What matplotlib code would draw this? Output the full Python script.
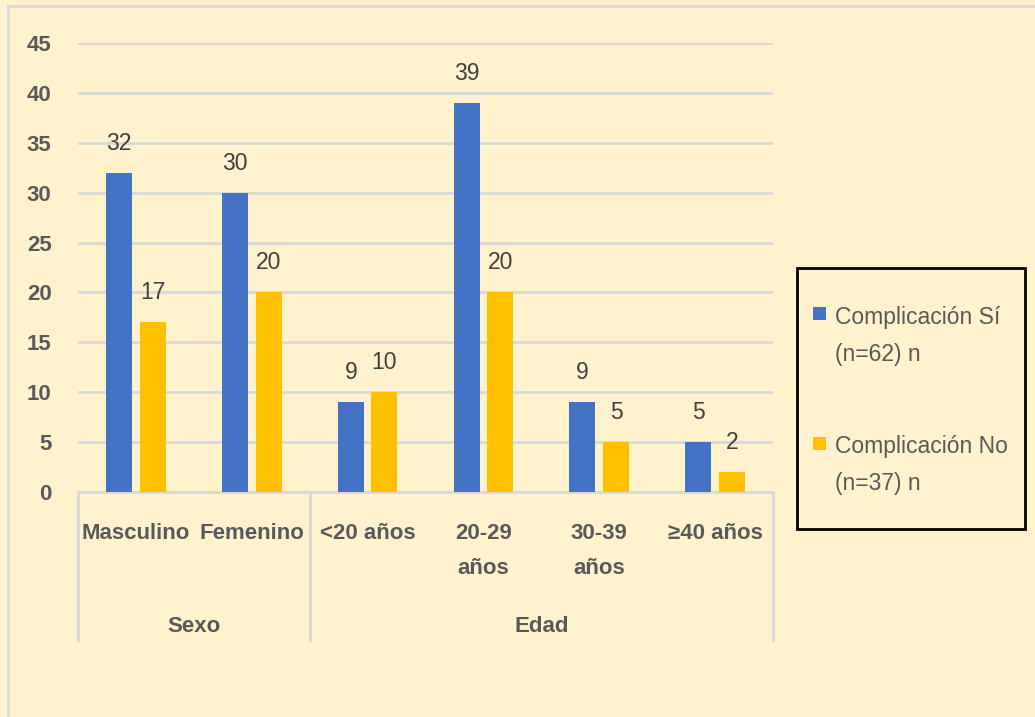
import matplotlib
matplotlib.use("Agg")
import matplotlib.pyplot as plt
from matplotlib.lines import Line2D
from matplotlib.patches import Patch, Rectangle
from matplotlib.legend_handler import HandlerPatch
import numpy as np

categories = ["Masculino", "Femenino", "<20 años", "20-29\naños", "30-39\naños", "≥40 años"]
groups = ["Sexo", "Edad"]
group_sizes = [2, 4]
si_values = [32, 30, 9, 39, 9, 5]
no_values = [17, 20, 10, 20, 5, 2]
series_names = ["Complicación Sí\n(n=62) n", "Complicación No\n(n=37) n"]
yticks = list(range(0, 50, 5))

BG = "#FFF2CC"
BLUE = "#4472C4"
YEL = "#FFC000"
GRID = "#D9D9D9"
TXT = "#595959"
plt.rcParams["font.family"] = ["Liberation Sans", "DejaVu Sans"]

W, H = 1035, 717
fig = plt.figure(figsize=(W / 100, H / 100), dpi=100, facecolor=BG)
L, R, B, T = 78, 773, 492, 43
ax = fig.add_axes([L / W, 1 - B / H, (R - L) / W, (B - T) / H])
ax.set_facecolor(BG)

x = np.arange(len(categories))
w = 0.225
off = 0.145
b1 = ax.bar(x - off, si_values, w, color=BLUE, zorder=3)
b2 = ax.bar(x + off, no_values, w, color=YEL, zorder=3)
for bars in (b1, b2):
    ax.bar_label(bars, padding=13, fontsize=16.5, color="#404040")

ax.set_xlim(-0.5, len(categories) - 0.5)
ax.set_ylim(0, 45)
ax.set_yticks(yticks)
ax.set_yticklabels([str(v) for v in yticks], fontsize=16, fontweight="bold", color=TXT)
ax.tick_params(axis="y", length=0, pad=19)
ax.set_xticks(x)
ax.set_xticklabels(categories, fontsize=16, fontweight="bold", color=TXT)
ax.tick_params(axis="x", length=0, pad=22)
for lab in ax.get_xticklabels():
    lab.set_linespacing(1.93)
    lab.set_verticalalignment("top")

ax.grid(axis="y", color=GRID, linewidth=2, zorder=0)
for s in ["top", "right", "left"]:
    ax.spines[s].set_visible(False)
ax.spines["bottom"].set_color(GRID)
ax.spines["bottom"].set_linewidth(2)

# group separators and labels
depth = (640 - B) / (B - T)
bounds = np.concatenate([[0], np.cumsum(group_sizes)]) - 0.5
trans = ax.get_xaxis_transform()
for bx in bounds:
    ax.plot([bx, bx], [0, -depth], transform=trans, color=GRID, lw=2, clip_on=False)
for g, a, bnd in zip(groups, bounds[:-1], bounds[1:]):
    ax.text((a + bnd) / 2, -(626 - B) / (B - T), g, transform=trans, ha="center", va="center",
            fontsize=16, fontweight="bold", color=TXT)

# legend frame
fig.add_artist(Rectangle((797 / W, 1 - 529 / H), (1025 - 797) / W, (529 - 268) / H,
                         transform=fig.transFigure, facecolor=BG, edgecolor="black", lw=2))

SQ = 13  # px


def top_square(legend, orig_handle, xdescent, ydescent, width, height, fontsize):
    s = SQ * 72 / 100
    return Rectangle((-xdescent, -ydescent + height - s + 6), s, s)


handles = [Patch(facecolor=BLUE), Patch(facecolor=YEL)]
leg = fig.legend(handles, series_names, loc="upper left",
                 bbox_to_anchor=(813 / W, 1 - 306 / H), bbox_transform=fig.transFigure,
                 fontsize=16.5, frameon=False, labelspacing=3.05,
                 handlelength=0.6, handleheight=2.6, handletextpad=0.35,
                 borderpad=0, borderaxespad=0, labelcolor=TXT,
                 handler_map={Patch: HandlerPatch(patch_func=top_square)})
for t in leg.get_texts():
    t.set_linespacing(1.75)

# outer border of chart area
fig.add_artist(Line2D([8 / W, 8 / W], [0, 1 - 6 / H], color=GRID, lw=2))
fig.add_artist(Line2D([8 / W, 1], [1 - 6 / H, 1 - 6 / H], color=GRID, lw=2))

fig.savefig("out.png", dpi=100, facecolor=BG)
